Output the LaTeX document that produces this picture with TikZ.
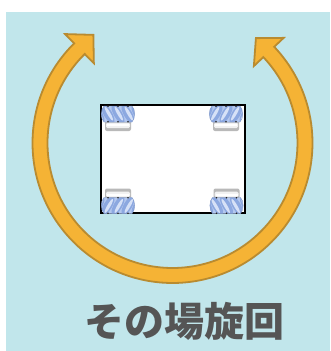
\documentclass[tikz,border=0pt]{standalone}
\usepackage{fontspec}
\newfontfamily\jpfont{Noto Sans CJK JP}
\definecolor{bgblue}{HTML}{C1E6EB}
\definecolor{arrowfill}{HTML}{F5B335}
\definecolor{arrowline}{HTML}{B98B30}
\definecolor{textgray}{HTML}{555555}
\definecolor{rollerbase}{HTML}{B4C8EE}
\definecolor{rollerdark}{HTML}{8CA8E0}
\definecolor{rollerlight}{HTML}{D6E1F7}
\tikzset{
  arrowband/.style={fill=arrowfill, draw=arrowline, line width=1.8pt, line join=miter},
  robot/.style={fill=white, draw=black, line width=2pt},
  barrel/.pic={
    % silver hub
    \fill[gray!55, rounded corners=2] (-13,2) rectangle (13,12.5);
    \fill[gray!10, rounded corners=1.5] (-12,4) rectangle (12,9.5);
    \fill[white] (-11,5) rectangle (11,7.5);
    % roller barrel
    \begin{scope}
      \clip (-14,-12.5) -- (14,-12.5) .. controls (17.5,-9) and (17.5,0) .. (14,3.5)
            -- (-14,3.5) .. controls (-17.5,0) and (-17.5,-9) .. (-14,-12.5) -- cycle;
      \fill[rollerbase] (-18,-13) rectangle (18,4);
      \foreach \i in {-20,-10,...,20}{
        \fill[rollerdark, rotate around={-60:(\i,-4.5)}] (\i,-4.5) ellipse[x radius=11, y radius=4.2];
        \fill[rollerlight, rotate around={-60:(\i+0.8,-5)}] (\i+0.8,-5) ellipse[x radius=8, y radius=1.6];
      }
    \end{scope}
    \draw[rollerdark!85!black, line width=0.3pt]
      (-14,-12.5) -- (14,-12.5) .. controls (17.5,-9) and (17.5,0) .. (14,3.5)
      -- (-14,3.5) .. controls (-17.5,0) and (-17.5,-9) .. (-14,-12.5) -- cycle;
    % roller pins
    \foreach \i in {-10,0,10}{
      \fill[gray!30!black] (\i,-12.3) circle[radius=0.9];
      \fill[gray!30!black] (\i,3.3) circle[radius=0.9];
    }
  }
}
\begin{document}
\begin{tikzpicture}[x=1pt,y=-1pt]
\useasboundingbox (0,0) rectangle (330,351);
\fill[bgblue] (6,12) rectangle (330,351);

% rotation arrow, double headed, around the robot
\begin{scope}[shift={(172.5,143)}]
  \draw[arrowband]
    (-43.4:140) arc[start angle=-43.4, end angle=225.4, radius=140]
    -- (225.4:153) -- (233.8:134) -- (225.4:112) -- (225.4:125)
    arc[start angle=225.4, end angle=-43.4, radius=125]
    -- (-43.4:112) -- (-51.5:134) -- (-43.4:153) -- cycle;
\end{scope}

% robot body
\draw[robot] (101,105.3) rectangle (244.7,212.7);

% mecanum wheels
\pic at (118,118.5) {barrel};
\pic[xscale=-1] at (226,118.5) {barrel};
\pic[yscale=-1] at (118,201) {barrel};
\pic[xscale=-1,yscale=-1] at (226.5,201) {barrel};

\node[font=\jpfont\bfseries\fontsize{40}{40}\selectfont, text=textgray, inner sep=0pt]
  (label) at (184.8,321.5) {その場旋回};
\end{tikzpicture}
\end{document}
